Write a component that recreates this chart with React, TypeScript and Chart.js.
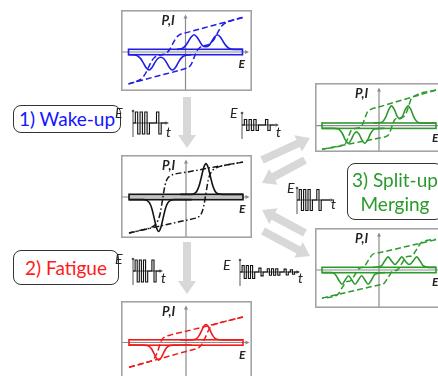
import React, { useEffect, useRef } from "react";
import { Chart, registerables } from "chart.js";

Chart.register(...registerables);

const FONT = "Lato, 'Noto Sans', 'DejaVu Sans', sans-serif";

// ---------------- panel data (E on x, P or I on y, normalised) ----------------
// 1) pristine / wake-up (blue)
const blueRiseE = [-1.0, -0.5, 0.0, 0.05, 0.1, 0.15, 0.2, 0.25, 0.3, 0.41, 0.46, 0.51, 0.56, 0.61, 0.66, 0.72, 1.0];
const blueRiseP = [-0.85, -0.645, -0.44, -0.41, -0.33, -0.15, 0.03, 0.12, 0.16, 0.2, 0.26, 0.36, 0.5, 0.64, 0.73, 0.79, 0.92];
const blueFallE = [1.0, 0.5, 0.0, -0.08, -0.13, -0.18, -0.23, -0.28, -0.33, -0.38, -0.5, -0.54, -0.59, -0.64, -0.69, -0.74, -0.8, -1.0];
const blueFallP = [0.92, 0.715, 0.51, 0.48, 0.43, 0.34, 0.2, 0.06, -0.02, -0.06, -0.1, -0.14, -0.23, -0.38, -0.54, -0.66, -0.74, -0.85];
const bluePosE = [-0.15, -0.05, 0.0, 0.05, 0.1, 0.15, 0.2, 0.25, 0.3, 0.355, 0.41, 0.46, 0.51, 0.56, 0.61, 0.66, 0.71, 0.76, 0.85, 1.0];
const bluePosI = [0.07, 0.1, 0.17, 0.28, 0.4, 0.46, 0.4, 0.28, 0.17, 0.14, 0.17, 0.28, 0.4, 0.46, 0.4, 0.28, 0.17, 0.1, 0.07, 0.07];
const blueNegE = [-1.0, -0.9, -0.84, -0.79, -0.74, -0.69, -0.64, -0.59, -0.54, -0.49, -0.435, -0.38, -0.33, -0.28, -0.23, -0.18, -0.13, -0.08, -0.03, 0.1];
const blueNegI = [-0.07, -0.08, -0.105, -0.17, -0.29, -0.42, -0.48, -0.42, -0.29, -0.18, -0.14, -0.18, -0.29, -0.42, -0.48, -0.42, -0.29, -0.17, -0.105, -0.07];

// woken-up (black)
const blackRiseE = [-1.0, -0.5, 0.0, 0.15, 0.22, 0.27, 0.31, 0.35, 0.39, 0.43, 0.48, 0.55, 0.7, 1.0];
const blackRiseP = [-0.96, -0.79, -0.62, -0.57, -0.53, -0.44, -0.25, 0.1, 0.45, 0.63, 0.73, 0.79, 0.85, 0.93];
const blackFallE = [1.0, 0.5, 0.0, -0.2, -0.28, -0.33, -0.37, -0.41, -0.45, -0.49, -0.54, -0.62, -0.75, -1.0];
const blackFallP = [0.93, 0.8, 0.66, 0.61, 0.56, 0.48, 0.3, -0.05, -0.42, -0.62, -0.74, -0.82, -0.87, -0.96];
const blackPosE = [-0.1, 0.1, 0.15, 0.19, 0.23, 0.27, 0.31, 0.35, 0.39, 0.43, 0.47, 0.51, 0.55, 0.65, 1.0];
const blackPosI = [0.07, 0.07, 0.094, 0.154, 0.298, 0.534, 0.78, 0.89, 0.78, 0.534, 0.298, 0.154, 0.094, 0.07, 0.07];
const blackNegE = [-1.0, -0.75, -0.68, -0.64, -0.6, -0.56, -0.52, -0.48, -0.44, -0.4, -0.36, -0.32, -0.28, -0.2, 0.1];
const blackNegI = [-0.07, -0.07, -0.095, -0.158, -0.306, -0.551, -0.807, -0.92, -0.807, -0.551, -0.306, -0.158, -0.095, -0.07, -0.07];

// 2) fatigued (red)
const redRiseE = [-1.0, -0.5, 0.0, 0.15, 0.22, 0.27, 0.31, 0.35, 0.39, 0.43, 0.48, 0.56, 0.7, 1.0];
const redRiseP = [-0.66, -0.45, -0.24, -0.18, -0.14, -0.07, 0.04, 0.17, 0.31, 0.41, 0.47, 0.51, 0.57, 0.68];
const redFallE = [1.0, 0.5, 0.0, -0.25, -0.35, -0.41, -0.45, -0.48, -0.52, -0.56, -0.61, -0.7, -0.85, -1.0];
const redFallP = [0.68, 0.49, 0.3, 0.21, 0.16, 0.1, -0.01, -0.16, -0.32, -0.43, -0.49, -0.53, -0.6, -0.66];
const redPosE = [-0.1, 0.1, 0.15, 0.19, 0.23, 0.27, 0.31, 0.35, 0.39, 0.43, 0.47, 0.51, 0.55, 0.65, 1.0];
const redPosI = [0.07, 0.07, 0.082, 0.112, 0.184, 0.302, 0.425, 0.48, 0.425, 0.302, 0.184, 0.112, 0.082, 0.07, 0.07];
const redNegE = [-1.0, -0.75, -0.68, -0.64, -0.6, -0.56, -0.52, -0.48, -0.44, -0.4, -0.36, -0.32, -0.28, -0.2, 0.1];
const redNegI = [-0.07, -0.07, -0.082, -0.111, -0.181, -0.296, -0.417, -0.47, -0.417, -0.296, -0.181, -0.111, -0.082, -0.07, -0.07];

// 3a) split-up, two peaks (green, upper)
const greenARiseE = [-1.0, -0.5, 0.0, 0.12, 0.17, 0.22, 0.27, 0.32, 0.41, 0.46, 0.51, 0.56, 0.61, 1.0];
const greenARiseP = [-0.63, -0.48, -0.33, -0.29, -0.24, -0.05, 0.15, 0.2, 0.22, 0.28, 0.47, 0.7, 0.78, 0.95];
const greenAFallE = [1.0, 0.5, 0.0, -0.15, -0.2, -0.25, -0.3, -0.35, -0.44, -0.49, -0.54, -0.59, -0.64, -1.0];
const greenAFallP = [0.95, 0.725, 0.5, 0.43, 0.38, 0.19, 0.0, -0.05, -0.08, -0.13, -0.31, -0.48, -0.52, -0.63];
const greenAPosE = [-0.1, 0.05, 0.12, 0.17, 0.22, 0.27, 0.32, 0.365, 0.41, 0.46, 0.51, 0.56, 0.61, 0.68, 0.8, 1.0];
const greenAPosI = [0.07, 0.095, 0.236, 0.427, 0.53, 0.427, 0.248, 0.178, 0.248, 0.427, 0.53, 0.427, 0.236, 0.095, 0.07, 0.07];
const greenANegE = [-1.0, -0.8, -0.71, -0.64, -0.59, -0.54, -0.49, -0.44, -0.395, -0.35, -0.3, -0.25, -0.2, -0.15, -0.08, 0.1];
const greenANegI = [-0.07, -0.07, -0.09, -0.214, -0.38, -0.47, -0.38, -0.225, -0.164, -0.225, -0.38, -0.47, -0.38, -0.214, -0.09, -0.07];

// 3b) split-up, three peaks (green, lower)
const greenBRiseE = [-1.0, -0.5, 0.0, 0.08, 0.16, 0.24, 0.32, 0.4, 0.48, 0.58, 0.66, 0.74, 1.0];
const greenBRiseP = [-0.75, -0.575, -0.4, -0.37, -0.2, -0.03, 0.0, 0.17, 0.35, 0.38, 0.55, 0.73, 0.82];
const greenBFallE = [1.0, 0.5, 0.0, -0.11, -0.19, -0.27, -0.34, -0.42, -0.5, -0.57, -0.65, -0.73, -1.0];
const greenBFallP = [0.81, 0.635, 0.46, 0.42, 0.25, 0.08, 0.05, -0.12, -0.29, -0.31, -0.48, -0.66, -0.75];
const greenBPosE = [-0.1, 0.04, 0.1, 0.16, 0.22, 0.28, 0.34, 0.4, 0.46, 0.53, 0.6, 0.66, 0.72, 0.78, 0.9, 1.0];
const greenBPosI = [0.07, 0.108, 0.24, 0.35, 0.24, 0.146, 0.24, 0.35, 0.24, 0.146, 0.24, 0.35, 0.24, 0.108, 0.07, 0.07];
const greenBNegE = [-1.0, -0.83, -0.77, -0.71, -0.65, -0.59, -0.535, -0.48, -0.42, -0.36, -0.305, -0.25, -0.19, -0.13, -0.07, 0.1];
const greenBNegI = [-0.07, -0.07, -0.112, -0.258, -0.38, -0.258, -0.155, -0.258, -0.38, -0.258, -0.155, -0.258, -0.38, -0.258, -0.112, -0.07];

// ---------------- pulse trains (field level per time slot) ----------------
const pulseWakeUp = [0, 1, -1, 1, -1, 1, -1, 0, 0, 0, 1, -1, 0, 0];
const pulseCycle = [0, 0.5, -0.5, 0.5, -0.5, 0.5, -0.5, 0, 0, 0, 0.5, -0.5, 0, 0];
const pulseSplit = [0, 1, -1, 1, -1, 1, -1, 0, 0, 1, -1, 0, 0, 0, 0];
const pulseFatigue = [0, 1, -1, 1, -1, 1, -1, 0, 0, 1, -1, 0, 0];
const pulseMerge = [0, 1, -1, 1, -1, 1, -1, 0, 0, 0.6, -0.6, 0, 0, 0.5, -0.5, 0.5, -0.5, 0.5, -0.5, 0, 0, 0.45, -0.45, 0, 0.35, -0.35, 0, 0];

// ---------------- labels ----------------
const stageLabels = ["1) Wake-up", "2) Fatigue", "3) Split-up", "Merging"];
const axisLabelPI = "P,I";
const axisLabelE = "E";
const axisLabelT = "t";

const toPts = (xs: number[], ys: number[]) => xs.map((x, i) => ({ x, y: ys[i] }));

function Panel(props: any) {
  const { left, top, w, h, ox, oy, color, dash, barFill, rise, fall, pos, neg } = props;
  const ref = useRef<HTMLCanvasElement>(null);
  const UX = 57;
  const UY = 37.5;
  useEffect(() => {
    const decor = {
      id: "panelDecor",
      beforeDraw(chart: any) {
        const ctx = chart.ctx;
        ctx.save();
        ctx.fillStyle = "#ffffff";
        ctx.fillRect(0, 0, chart.width, chart.height);
        ctx.restore();
      },
      beforeDatasetsDraw(chart: any) {
        const ctx = chart.ctx;
        const sx = chart.scales.x;
        const sy = chart.scales.y;
        const x0 = sx.getPixelForValue(0);
        const y0 = sy.getPixelForValue(0);
        ctx.save();
        ctx.strokeStyle = "#8a8a8a";
        ctx.fillStyle = "#8a8a8a";
        ctx.lineWidth = 1.2;
        ctx.beginPath();
        ctx.moveTo(x0, chart.height);
        ctx.lineTo(x0, 7);
        ctx.stroke();
        ctx.beginPath();
        ctx.moveTo(x0, 4.5);
        ctx.lineTo(x0 - 2, 8.5);
        ctx.lineTo(x0 + 2, 8.5);
        ctx.closePath();
        ctx.fill();
        const xe = sx.getPixelForValue(1.07);
        ctx.beginPath();
        ctx.moveTo(0, y0);
        ctx.lineTo(xe, y0);
        ctx.stroke();
        ctx.beginPath();
        ctx.moveTo(xe + 2.5, y0);
        ctx.lineTo(xe - 1.5, y0 - 2);
        ctx.lineTo(xe - 1.5, y0 + 2);
        ctx.closePath();
        ctx.fill();
        const bx1 = sx.getPixelForValue(-1);
        const bx2 = sx.getPixelForValue(1);
        const by1 = sy.getPixelForValue(0.072);
        const by2 = sy.getPixelForValue(-0.072);
        if (barFill) {
          ctx.fillStyle = barFill;
          ctx.fillRect(bx1, by1, bx2 - bx1, by2 - by1);
        }
        ctx.strokeStyle = color;
        ctx.lineWidth = 1.6;
        ctx.strokeRect(bx1, by1, bx2 - bx1, by2 - by1);
        ctx.restore();
      },
      afterDraw(chart: any) {
        const ctx = chart.ctx;
        ctx.save();
        ctx.strokeStyle = "#a3a3a3";
        ctx.lineWidth = 1.6;
        ctx.strokeRect(0.8, 0.8, chart.width - 1.6, chart.height - 1.6);
        ctx.restore();
      },
    };
    const loopStyle = { borderColor: color, borderWidth: 1.5, borderDash: dash, pointRadius: 0, fill: false };
    const curStyle = { borderColor: color, borderWidth: 1.6, pointRadius: 0, fill: false };
    const chart = new Chart(ref.current as HTMLCanvasElement, {
      type: "line",
      data: {
        datasets: [
          { ...loopStyle, data: toPts(rise[0], rise[1]) },
          { ...loopStyle, data: toPts(fall[0], fall[1]) },
          { ...curStyle, data: toPts(pos[0], pos[1]) },
          { ...curStyle, data: toPts(neg[0], neg[1]) },
        ] as any,
      },
      options: {
        responsive: false,
        animation: false,
        events: [],
        devicePixelRatio: 1,
        layout: { padding: 0 },
        plugins: { legend: { display: false }, tooltip: { enabled: false } },
        elements: { line: { cubicInterpolationMode: "monotone" }, point: { radius: 0 } },
        scales: {
          x: { type: "linear", display: false, min: -ox / UX, max: (w - ox) / UX },
          y: { type: "linear", display: false, min: -(h - oy) / UY, max: oy / UY },
        },
      } as any,
      plugins: [decor],
    });
    return () => chart.destroy();
  }, []);
  const labelStyle: any = {
    position: "absolute",
    fontFamily: FONT,
    fontStyle: "italic",
    fontWeight: 700,
    color: "#222",
    lineHeight: 1,
    whiteSpace: "nowrap",
  };
  return (
    <>
      <canvas ref={ref} width={w} height={h} style={{ position: "absolute", left, top, width: w, height: h }} />
      <span style={{ ...labelStyle, fontSize: 13, left: left + ox - 24, top: top + 4 }}>{axisLabelPI}</span>
      <span style={{ ...labelStyle, fontSize: 12, left: left + ox + UX - 4, top: top + oy + 6 }}>{axisLabelE}</span>
    </>
  );
}

function Pulse(props: any) {
  const { ax, ay, len, dx, amp, levels, eDx, eDy, tDx, tDy } = props;
  const ref = useRef<HTMLCanvasElement>(null);
  const padL = 3;
  const padT = 16;
  const W = len + 8;
  const H = 34;
  useEffect(() => {
    const axes = {
      id: "pulseAxes",
      beforeDatasetsDraw(chart: any) {
        const ctx = chart.ctx;
        const x0 = chart.scales.x.getPixelForValue(0);
        const y0 = chart.scales.y.getPixelForValue(0);
        ctx.save();
        ctx.strokeStyle = "#555";
        ctx.fillStyle = "#555";
        ctx.lineWidth = 1;
        ctx.beginPath();
        ctx.moveTo(x0, y0 + 14);
        ctx.lineTo(x0, y0 - 11);
        ctx.stroke();
        ctx.beginPath();
        ctx.arc(x0, y0 - 12, 1.3, 0, Math.PI * 2);
        ctx.fill();
        ctx.beginPath();
        ctx.moveTo(x0, y0);
        ctx.lineTo(x0 + len, y0);
        ctx.stroke();
        ctx.beginPath();
        ctx.moveTo(x0 + len + 2, y0);
        ctx.lineTo(x0 + len - 1.5, y0 - 1.8);
        ctx.lineTo(x0 + len - 1.5, y0 + 1.8);
        ctx.closePath();
        ctx.fill();
        ctx.restore();
      },
    };
    const data = levels.map((v: number, i: number) => ({ x: i, y: v })).concat([{ x: levels.length, y: 0 }]);
    const chart = new Chart(ref.current as HTMLCanvasElement, {
      type: "line",
      data: {
        datasets: [{ data, borderColor: "#111", borderWidth: 1.1, stepped: true, pointRadius: 0, fill: false }] as any,
      },
      options: {
        responsive: false,
        animation: false,
        events: [],
        devicePixelRatio: 1,
        layout: { padding: 0 },
        plugins: { legend: { display: false }, tooltip: { enabled: false } },
        scales: {
          x: { type: "linear", display: false, min: -padL / dx, max: (W - padL) / dx },
          y: { type: "linear", display: false, min: -(H - padT) / amp, max: padT / amp },
        },
      } as any,
      plugins: [axes],
    });
    return () => chart.destroy();
  }, []);
  const txt: any = {
    position: "absolute",
    fontFamily: FONT,
    fontStyle: "italic",
    fontSize: 14,
    color: "#222",
    lineHeight: 1,
  };
  return (
    <>
      <canvas ref={ref} width={W} height={H} style={{ position: "absolute", left: ax - padL, top: ay - padT, width: W, height: H }} />
      <span style={{ ...txt, left: ax + eDx, top: ay + eDy }}>{axisLabelE}</span>
      <span style={{ ...txt, left: ax + len + tDx, top: ay + tDy }}>{axisLabelT}</span>
    </>
  );
}

function arrowPoints(x1: number, y1: number, x2: number, y2: number, sw = 4, hw = 9, hl = 13) {
  const L = Math.hypot(x2 - x1, y2 - y1);
  const ux = (x2 - x1) / L;
  const uy = (y2 - y1) / L;
  const nx = -uy;
  const ny = ux;
  const bx = x2 - ux * hl;
  const by = y2 - uy * hl;
  const p = [
    [x1 + nx * sw, y1 + ny * sw],
    [bx + nx * sw, by + ny * sw],
    [bx + nx * hw, by + ny * hw],
    [x2, y2],
    [bx - nx * hw, by - ny * hw],
    [bx - nx * sw, by - ny * sw],
    [x1 - nx * sw, y1 - ny * sw],
  ];
  return p.map((q) => q[0].toFixed(1) + "," + q[1].toFixed(1)).join(" ");
}

function StageBox(props: any) {
  const { left, top, w, h, color, lines } = props;
  return (
    <div
      style={{
        position: "absolute",
        left,
        top,
        width: w,
        height: h,
        boxSizing: "border-box",
        border: "1.5px solid #333",
        borderRadius: 8,
        display: "flex",
        flexDirection: "column",
        alignItems: "center",
        justifyContent: "center",
        fontFamily: FONT,
        fontSize: 19,
        lineHeight: "24px",
        color,
        whiteSpace: "nowrap",
      }}
    >
      {lines.map((s: string, i: number) => (
        <div key={i}>{s}</div>
      ))}
    </div>
  );
}

export default function App() {
  const arrows = [
    [187, 97, 187, 148],
    [187, 242, 187, 294],
    [262, 160, 310, 138],
    [305, 160, 262, 183],
    [305, 233, 262, 210],
    [263, 231, 310, 256],
  ];
  return (
    <div style={{ position: "absolute", left: 0, top: 0, width: 438, height: 376, overflow: "hidden", background: "#fff" }}>
      <svg width={438} height={376} style={{ position: "absolute", left: 0, top: 0 }}>
        {arrows.map((a, i) => (
          <polygon key={i} points={arrowPoints(a[0], a[1], a[2], a[3])} fill="#d8d8d8" />
        ))}
      </svg>

      <Panel left={121} top={10} w={131} h={81} ox={64.5} oy={42} color="#1f1fe6" dash={[6, 3]} barFill="rgba(255,255,255,0)"
        rise={[blueRiseE, blueRiseP]} fall={[blueFallE, blueFallP]} pos={[bluePosE, bluePosI]} neg={[blueNegE, blueNegI]} />
      <Panel left={121} top={155} w={131} h={83} ox={65} oy={42} color="#151515" dash={[6, 2.5, 1.5, 2.5]} barFill="#c2c2c2"
        rise={[blackRiseE, blackRiseP]} fall={[blackFallE, blackFallP]} pos={[blackPosE, blackPosI]} neg={[blackNegE, blackNegI]} />
      <Panel left={121} top={301} w={131} h={83} ox={65} oy={41.5} color="#f01c1c" dash={[6, 3]} barFill="rgba(255,255,255,0)"
        rise={[redRiseE, redRiseP]} fall={[redFallE, redFallP]} pos={[redPosE, redPosI]} neg={[redNegE, redNegI]} />
      <Panel left={315} top={83} w={131} h={69} ox={64} oy={42.7} color="#2e9a2e" dash={[6, 3]} barFill="rgba(255,255,255,0)"
        rise={[greenARiseE, greenARiseP]} fall={[greenAFallE, greenAFallP]} pos={[greenAPosE, greenAPosI]} neg={[greenANegE, greenANegI]} />
      <Panel left={315} top={228} w={131} h={80} ox={64} oy={42} color="#2e9a2e" dash={[6, 3]} barFill="rgba(255,255,255,0)"
        rise={[greenBRiseE, greenBRiseP]} fall={[greenBFallE, greenBFallP]} pos={[greenBPosE, greenBPosI]} neg={[greenBNegE, greenBNegI]} />

      <StageBox left={13} top={105} w={108} h={28} color="#1414ff" lines={[stageLabels[0]]} />
      <StageBox left={13} top={250} w={106} h={35} color="#ff1a1a" lines={[stageLabels[1]]} />
      <StageBox left={347} top={163} w={96} h={57} color="#2a9a2a" lines={[stageLabels[2], stageLabels[3]]} />

      <Pulse ax={133} ay={123} len={34} dx={2.35} amp={11} levels={pulseWakeUp} eDx={-18} eDy={-17} tDx={-1} tDy={2} />
      <Pulse ax={242} ay={125} len={35} dx={2.35} amp={11} levels={pulseCycle} eDx={-12} eDy={-19} tDx={-1} tDy={0} />
      <Pulse ax={297} ay={200} len={35} dx={2.2} amp={10.5} levels={pulseSplit} eDx={-10} eDy={-19} tDx={-1} tDy={-3} />
      <Pulse ax={133} ay={271} len={28} dx={2.1} amp={11} levels={pulseFatigue} eDx={-18} eDy={-19} tDx={0} tDy={0} />
      <Pulse ax={240} ay={272} len={58} dx={2.1} amp={6.5} levels={pulseMerge} eDx={-17} eDy={-14} tDx={0} tDy={-1} />
    </div>
  );
}
